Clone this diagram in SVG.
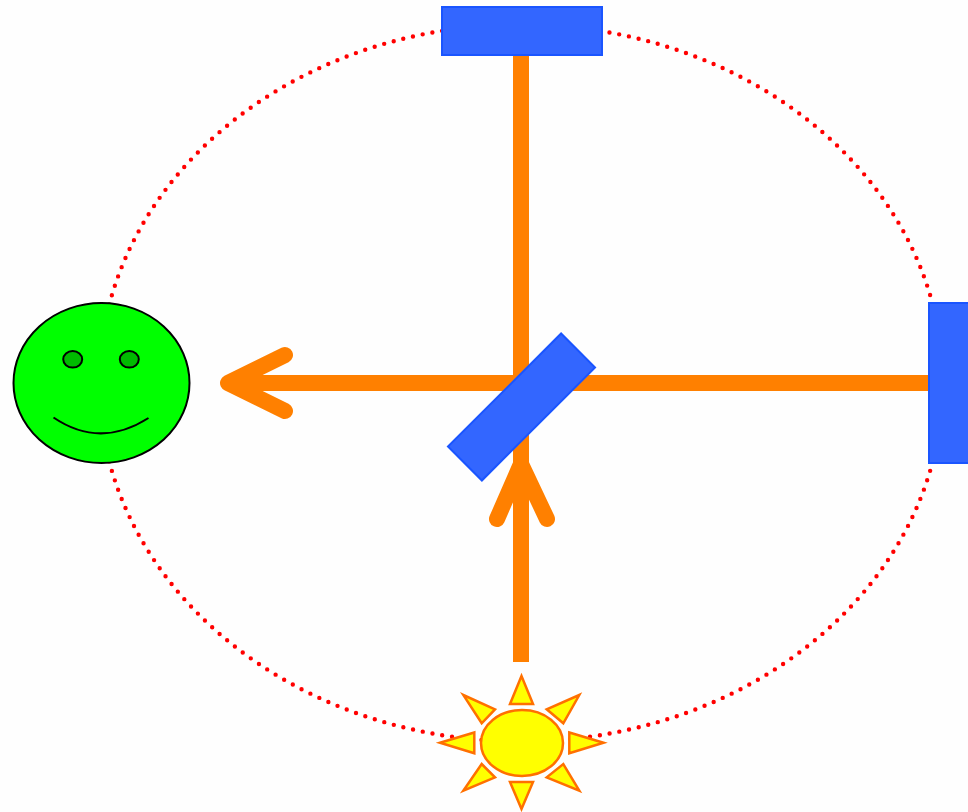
<svg xmlns="http://www.w3.org/2000/svg" width="968" height="812" viewBox="0 0 968 812">
  <style>
    .beam { stroke: #ff8000; stroke-width: 16; fill: none; }
    .head { stroke: #ff8000; stroke-width: 16; fill: none; stroke-linecap: round; stroke-linejoin: round; }
    .mirror { fill: #3366ff; stroke: #1a55ff; stroke-width: 2; }
    .ray { fill: #ffff00; stroke: #ff7000; stroke-width: 2.5; stroke-linejoin: miter; }
  </style>
  <rect width="968" height="812" fill="#fefefe"/>

  <!-- dotted orbit -->
  <g id="orbit">
    <ellipse cx="521" cy="383" rx="422" ry="358.5" fill="none" stroke="#ff0000" stroke-width="4.4" stroke-linecap="round" stroke-dasharray="0 9.9"/>
  </g>

  <!-- light paths -->
  <g id="connectors">
    <line class="beam" x1="521" y1="55" x2="521" y2="662"/>
    <line class="beam" x1="232" y1="383" x2="929" y2="383"/>
    <polyline class="head" points="285,355 228,383 285,411"/>
    <polyline class="head" points="497,519 521,464 547,519"/>
  </g>

  <g id="mirror-top">
    <rect class="mirror" x="442" y="7" width="160" height="48"/>
  </g>

  <g id="mirror-right">
    <rect class="mirror" x="929" y="303" width="48" height="160"/>
  </g>

  <g id="beam-splitter">
    <rect class="mirror" x="-80" y="-24" width="160" height="48" transform="translate(521.5 407) rotate(-45)"/>
  </g>

  <g id="observer">
    <ellipse cx="101.5" cy="383" rx="88" ry="80" fill="#00ff00" stroke="#000" stroke-width="2"/>
    <ellipse cx="72.7" cy="359.3" rx="9.5" ry="8.3" fill="#00bb00" stroke="#000" stroke-width="2"/>
    <ellipse cx="129.3" cy="359.3" rx="9.5" ry="8.3" fill="#00bb00" stroke="#000" stroke-width="2"/>
    <path d="M53.5,417.5 Q100,449 148.5,418" fill="none" stroke="#000" stroke-width="2"/>
  </g>

  <g id="source">
    <polygon class="ray" points="521.5,676 510,704 533,704"/>
    <polygon class="ray" points="521.5,809 510,782 533,782"/>
    <polygon class="ray" points="440,742.7 474.3,732.5 474.3,753.3"/>
    <polygon class="ray" points="603.5,742.7 569.3,732.5 569.3,753.3"/>
    <polygon class="ray" points="463.3,695 495,709.3 481.7,723.3"/>
    <polygon class="ray" points="579.3,695 546.7,709.3 563.3,723.3"/>
    <polygon class="ray" points="463.3,790.7 481.7,764 495,777.3"/>
    <polygon class="ray" points="579.3,790.7 563.3,764 546.7,777.3"/>
    <ellipse cx="522" cy="743" rx="41" ry="33" fill="#ffff00" stroke="#ff7000" stroke-width="2.5"/>
  </g>
</svg>
